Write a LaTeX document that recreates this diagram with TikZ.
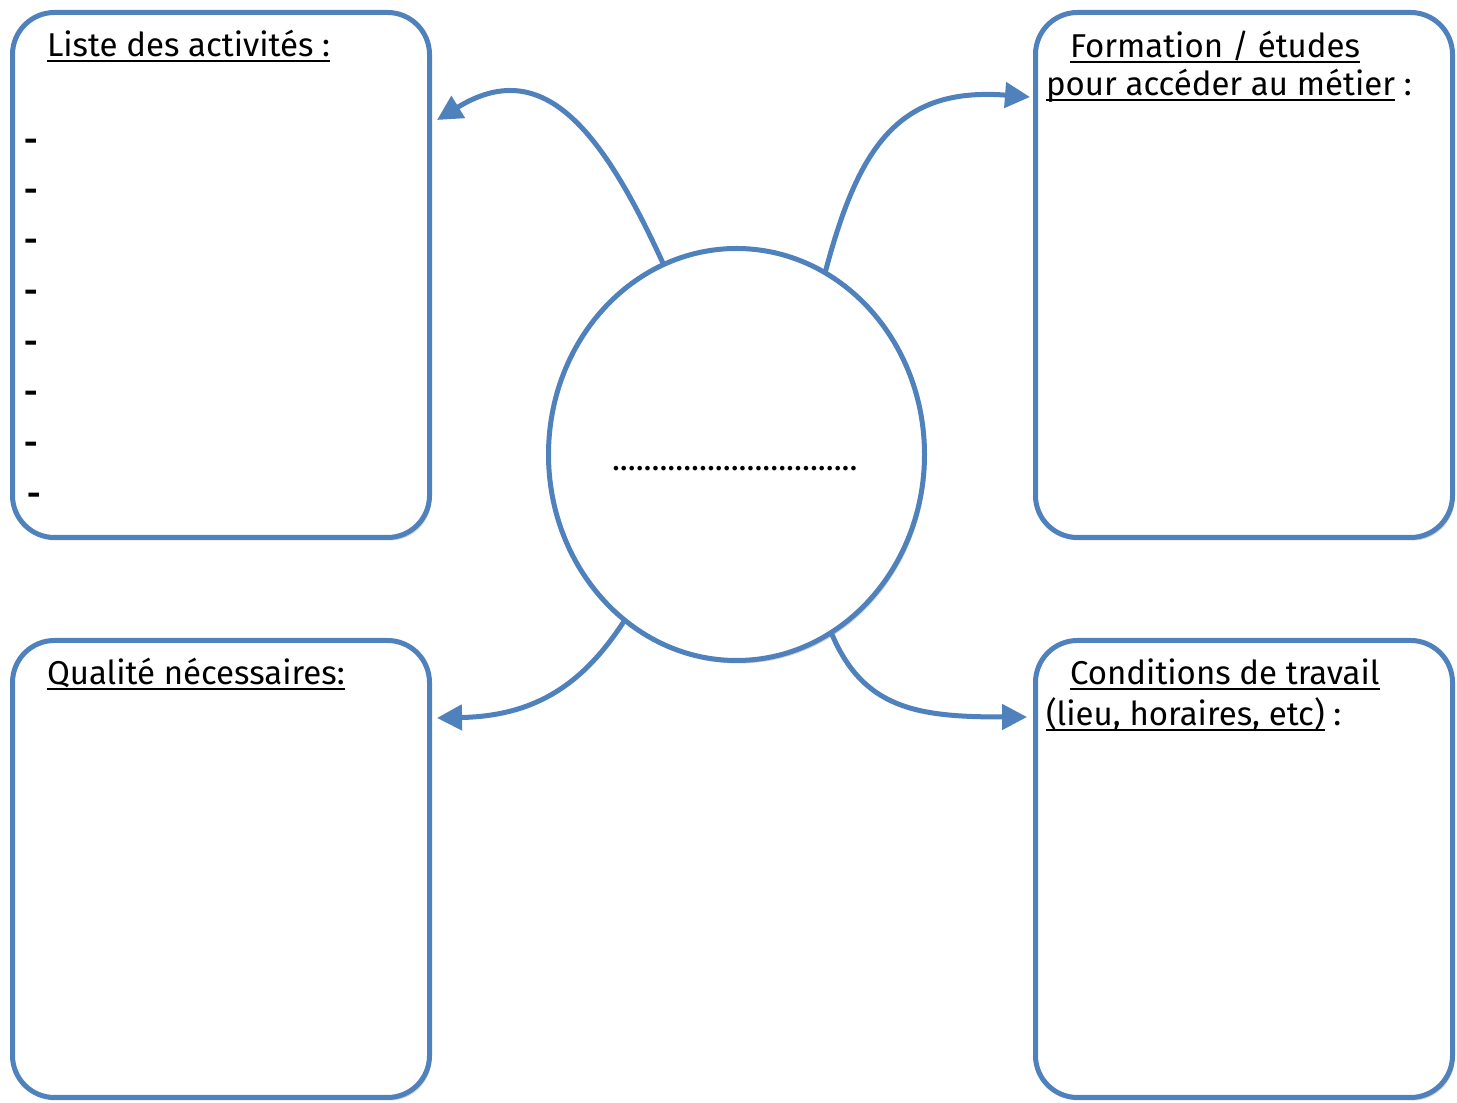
\documentclass[tikz,border=0pt]{standalone}
\usepackage{fontspec}
\setmainfont{Fira Sans}
\newcommand\myul[1]{\setbox0\hbox{#1}\rlap{\rule[-5.2pt]{\wd0}{2.4pt}}\box0\relax}
\usetikzlibrary{shapes.geometric,arrows.meta,shadows}
\definecolor{ablue}{RGB}{79,129,189}
\begin{document}
\begin{tikzpicture}[x=1pt,y=1pt,
  shadowed/.style={drop shadow={shadow xshift=2pt,shadow yshift=-3pt,opacity=0.18,fill=black}},
  box/.style={draw=ablue,line width=5pt,rounded corners=42pt,fill=white,inner sep=0pt,outer sep=0pt,
    minimum width=417pt,shadowed},
  topbox/.style={box,minimum height=525pt},
  botbox/.style={box,minimum height=457pt},
  circ/.style={ellipse,draw=ablue,line width=5pt,fill=white,inner sep=0pt,outer sep=0pt,
    minimum width=376pt,minimum height=412pt,shadowed},
  lbl/.style={inner sep=0pt,outer sep=0pt,font=\fontsize{33}{40}\selectfont},
  bullet/.style={inner sep=0pt,outer sep=0pt,font=\fontsize{33}{40}\selectfont\bfseries},
  arr/.style={draw=ablue,line width=5pt,-{Triangle[length=25pt,width=25pt]}}
]
\useasboundingbox (0,0) rectangle (1457,1103);
\fill[white] (0,0) rectangle (1457,1103);

% boxes
\node[topbox] (tl) at (221,828) {};
\node[topbox] (tr) at (1244,828) {};
\node[botbox] (bl) at (221,234) {};
\node[botbox] (br) at (1244,234) {};

% central circle
\node[circ] (c) at (736.5,648.5) {};
\node[lbl,anchor=base west] (dots) at (612,632) {...............................};

% arrow tips
\coordinate (p1) at (437,983);
\coordinate (p2) at (1030,1006);
\coordinate (p3) at (437,385);
\coordinate (p4) at (1027,386);

\draw[arr] (c.111) .. controls (600,978) and (541,1047) .. (p1);
\draw[arr] (c.64) .. controls (859,959) and (900,1016) .. (p2);
\draw[arr] (c.236.6) .. controls (584,420) and (537,387) .. (p3);
\draw[arr] (c.298) .. controls (863,394) and (917,386) .. (p4);

% texts
\node[lbl,anchor=base west] (t1) at (47,1046) {\myul{Liste des activités :}};
\node[lbl,anchor=base west] (t2a) at (1070,1045) {\myul{Formation / études}};
\node[lbl,anchor=base west] (t2b) at (1046,1007) {\myul{pour accéder au métier} :};
\node[lbl,anchor=base west] (t3) at (47,418) {\myul{Qualité nécessaires:}};
\node[lbl,anchor=base west] (t4a) at (1070,418) {\myul{Conditions de travail}};
\node[lbl,anchor=base west] (t4b) at (1046,377) {\myul{(lieu, horaires, etc)} :};

% dashes
\node[bullet] (d1) at (31,958) {-};
\node[bullet] (d2) at (31,908) {-};
\node[bullet] (d3) at (31,858) {-};
\node[bullet] (d4) at (31,807) {-};
\node[bullet] (d5) at (31,756) {-};
\node[bullet] (d6) at (31,706) {-};
\node[bullet] (d7) at (31,655) {-};
\node[bullet] (d8) at (34,604) {-};
\end{tikzpicture}
\end{document}
